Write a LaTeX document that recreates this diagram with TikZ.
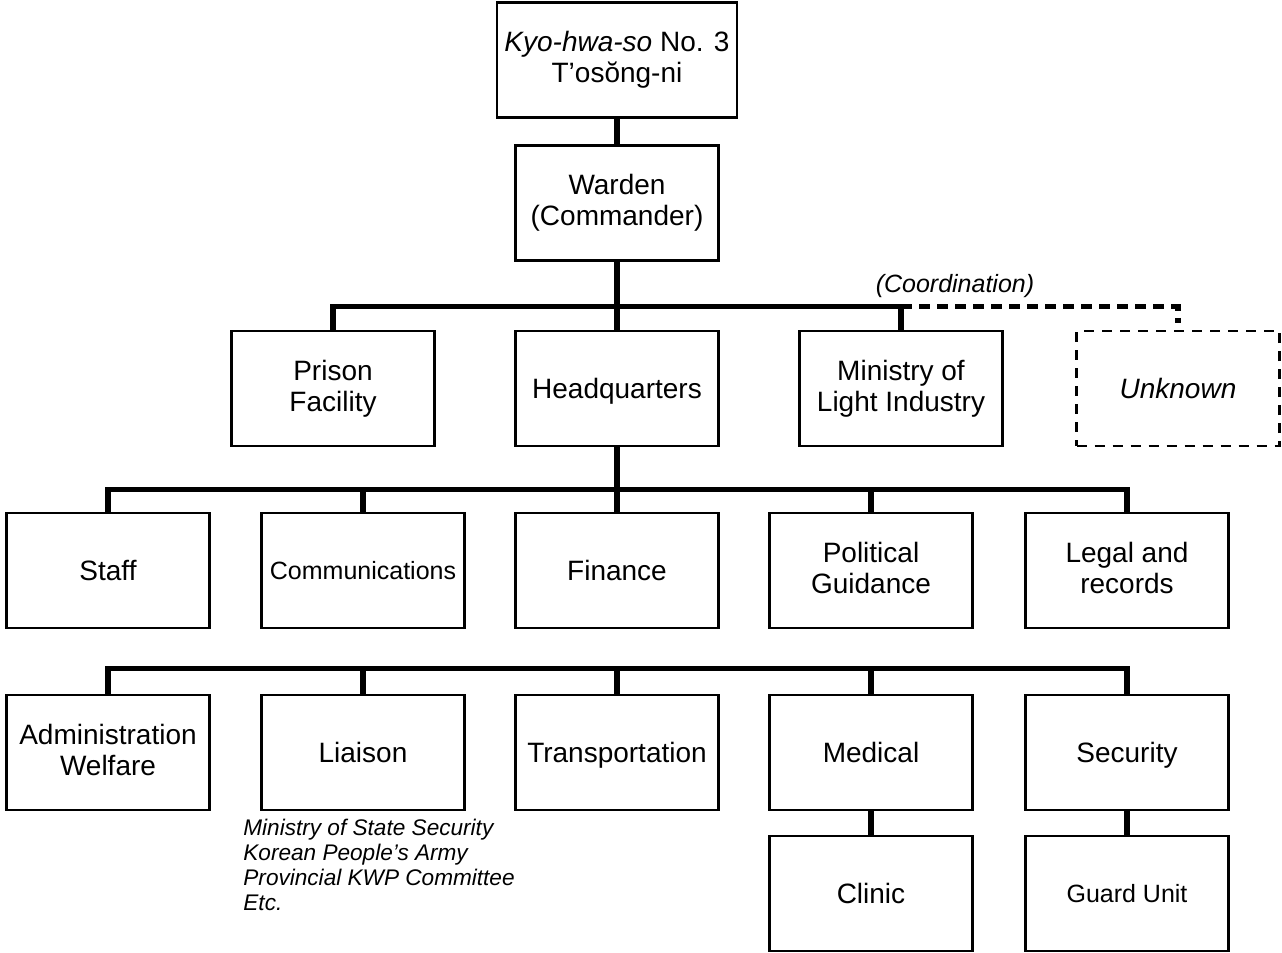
\documentclass[tikz,border=0pt]{standalone}
\usepackage{fontspec}
\setmainfont{Liberation Sans}
\begin{document}
\begin{tikzpicture}[
    x=0.5pt, y=-0.5pt,
    box/.style={draw, line width=1.2pt, minimum width=101.5pt, minimum height=57.5pt,
        align=center, inner sep=0pt, font=\fontsize{14}{15.5}\selectfont,
        execute at begin node=\rule{0pt}{0.93em}, execute at end node=\vphantom{g}},
    small/.style={font=\fontsize{12.5}{14}\selectfont},
    unsure/.style={box, dash pattern=on 5pt off 4pt},
    bus/.style={line width=2.6pt},
    coordline/.style={line width=2.6pt, dash pattern=on 5.5pt off 3.5pt},
    note/.style={inner sep=0pt, align=left, font=\fontsize{11.3}{12.4}\selectfont\itshape},
    ]
    \useasboundingbox (0,0) rectangle (1282,953);

    \node at(617,60) [box, minimum width=120pt](camp){\textit{Kyo-hwa-so} No. 3\\T’osŏng-ni};
    \node at(617,203) [box](warden){Warden\\(Commander)};
    \draw[bus] (camp.south) -- (warden.north);

    \node at(333,388.5) [box](prison){Prison\\Facility};
    \node at(617,388.5) [box](hq){Headquarters};
    \node at(901,388.5) [box](ministry){Ministry of\\Light Industry};
    \node at(1178,388.5) [unsure](unknown){\textit{Unknown}};
    \draw[bus] (warden.south) -- (hq.north);
    \draw[bus] (prison.north) -- ++(0,-23) -| (ministry.north);
    \draw[coordline] ([yshift=11.5pt]ministry.north) -| ([yshift=3.5pt]unknown.north);
    \node at(955,286) [font=\fontsize{12.5}{14}\selectfont\itshape](coordlbl){(Coordination)};

    \node at(108,570.5) [box](staff){Staff};
    \node at(363,570.5) [box, small](comm){Communications};
    \node at(617,570.5) [box](finance){Finance};
    \node at(871,570.5) [box](political){Political\\Guidance};
    \node at(1127,570.5) [box](legal){Legal and\\records};
    \draw[bus] (hq.south) -- (finance.north);
    \draw[bus] (staff.north) -- ++(0,-22) -| (legal.north);
    \draw[bus] (comm.north) -- ++(0,-22);
    \draw[bus] (political.north) -- ++(0,-22);

    \node at(108,752.5) [box](admin){Administration\\Welfare};
    \node at(363,752.5) [box](liaison){Liaison};
    \node at(617,752.5) [box](transport){Transportation};
    \node at(871,752.5) [box](medical){Medical};
    \node at(1127,752.5) [box](security){Security};
    \draw[bus] (admin.north) -- ++(0,-25) -| (security.north);
    \draw[bus] (liaison.north) -- ++(0,-25);
    \draw[bus] (transport.north) -- ++(0,-25);
    \draw[bus] (medical.north) -- ++(0,-25);

    \node at(243,819) [note, anchor=north west](liaisonnote){Ministry of State Security\\Korean People’s Army\\Provincial KWP Committee\\Etc.};

    \node at(871,893.5) [box](clinic){Clinic};
    \node at(1127,893.5) [box, small](guard){Guard Unit};
    \draw[bus] (medical.south) -- (clinic.north);
    \draw[bus] (security.south) -- (guard.north);
\end{tikzpicture}
\end{document}
